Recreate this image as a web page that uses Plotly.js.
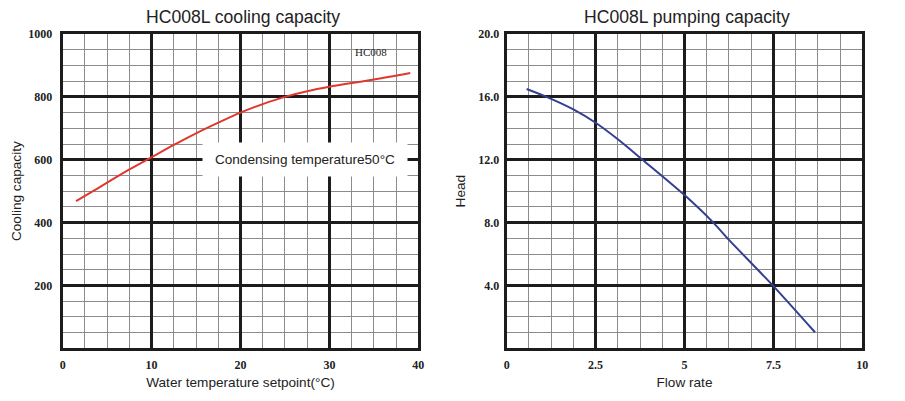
<!DOCTYPE html>
<html>
<head>
<meta charset="utf-8">
<script src="https://cdn.plot.ly/plotly-3.0.1.min.js"></script>
<style>html,body{margin:0;padding:0;background:#fff;}#chart{width:905px;height:401px;}</style>
</head>
<body>
<div id="chart"></div>
<script>
// Cooling capacity chart data
const coolTemp = [1.5, 2.5, 5, 7.5, 10, 12.5, 15, 17.5, 20, 22.5, 25, 27.5, 30, 35, 39.1];
const coolCap  = [468, 485, 527, 569, 608, 647, 684, 718, 750, 777, 800, 818, 832, 855, 876];
const coolXTicks = [0, 10, 20, 30, 40];
const coolYTicks = [0, 200, 400, 600, 800, 1000];
const coolYTickText = ['', '200', '400', '600', '800', '1000'];

// Pumping capacity chart data
const flowRate = [0.56, 1.12, 1.875, 2.5, 3.125, 3.82, 5, 5.81, 6.25, 7.5, 8.67];
const headVal  = [16.5, 16.0, 15.2, 14.35, 13.3, 12.0, 9.75, 8.0, 6.9, 3.96, 1.02];
const pumpXTicks = [0, 2.5, 5, 7.5, 10];
const pumpXTickText = ['0', '2.5', '5', '7.5', '10'];
const pumpYTicks = [0, 4, 8, 12, 16, 20];
const pumpYTickText = ['', '4.0', '8.0', '12.0', '16.0', '20.0'];

const titles = ['HC008L cooling capacity', 'HC008L pumping capacity'];
const xTitles = ['Water temperature setpoint(°C)', 'Flow rate'];
const yTitles = ['Cooling capacity', 'Head'];
const curveLabel = 'HC008';
const conditionLabel = 'Condensing temperature50°C';

const majorColor = '#1c1c1c';
const minorColor = '#8c8c8c';
const tickFont = {family: 'Liberation Serif, Times New Roman, serif', size: 12, color: '#222', weight: 'bold'};
const sansTitle = {family: 'Liberation Sans, Arial, sans-serif', size: 13.6, color: '#222'};

function axisBase(extra) {
  return Object.assign({
    showline: true, mirror: true, linewidth: 3, linecolor: majorColor,
    showgrid: true, gridcolor: majorColor, gridwidth: 3,
    zeroline: false, ticks: '', tickfont: tickFont,
    tickmode: 'array', fixedrange: true
  }, extra);
}

const traces = [
  {x: coolTemp, y: coolCap, type: 'scatter', mode: 'lines', line: {color: '#e0382f', width: 2, shape: 'spline', smoothing: 0.8}, xaxis: 'x', yaxis: 'y', hoverinfo: 'skip'},
  {x: flowRate, y: headVal, type: 'scatter', mode: 'lines', line: {color: '#343f92', width: 2, shape: 'spline', smoothing: 0.8}, xaxis: 'x2', yaxis: 'y2', hoverinfo: 'skip'}
];

const yDom = [1 - 348.3/401, 1 - 34/401];
const layout = {
  width: 905, height: 401,
  margin: {l: 0, r: 0, t: 0, b: 0},
  paper_bgcolor: '#fff', plot_bgcolor: '#fff',
  showlegend: false,
  xaxis: axisBase({domain: [62.7/905, 418.3/905], range: [0, 40], tickvals: coolXTicks,
    ticklabelstandoff: 3,
    minor: {tickmode: 'linear', tick0: 0, dtick: 2.5, showgrid: true, gridcolor: minorColor, gridwidth: 1, ticks: ''},
    title: {text: xTitles[0], font: sansTitle, standoff: 7}}),
  yaxis: axisBase({domain: yDom, range: [0, 1000], tickvals: coolYTicks, ticktext: coolYTickText,
    ticklabelstandoff: 5,
    minor: {tickmode: 'linear', tick0: 0, dtick: 50, showgrid: true, gridcolor: minorColor, gridwidth: 1, ticks: ''},
    title: {text: yTitles[0], font: sansTitle, standoff: 4}}),
  xaxis2: axisBase({domain: [506.7/905, 862.3/905], range: [0, 10], tickvals: pumpXTicks, ticktext: pumpXTickText,
    anchor: 'y2', ticklabelstandoff: 3,
    minor: {tickmode: 'linear', tick0: 0, dtick: 0.625, showgrid: true, gridcolor: minorColor, gridwidth: 1, ticks: ''},
    title: {text: xTitles[1], font: sansTitle, standoff: 7}}),
  yaxis2: axisBase({domain: yDom, range: [0, 20], tickvals: pumpYTicks, ticktext: pumpYTickText,
    anchor: 'x2', ticklabelstandoff: 2,
    minor: {tickmode: 'linear', tick0: 0, dtick: 1, showgrid: true, gridcolor: minorColor, gridwidth: 1, ticks: ''},
    title: {text: yTitles[1], font: sansTitle, standoff: 10}}),
  annotations: [
    {text: titles[0], xref: 'paper', yref: 'paper', x: 243/905, y: 1 - 16.5/401, xanchor: 'center', yanchor: 'middle', showarrow: false,
     font: {family: 'Liberation Sans, Arial, sans-serif', size: 17.6, color: '#222'}},
    {text: titles[1], xref: 'paper', yref: 'paper', x: 687/905, y: 1 - 16.5/401, xanchor: 'center', yanchor: 'middle', showarrow: false,
     font: {family: 'Liberation Sans, Arial, sans-serif', size: 17.6, color: '#222'}},
    {text: curveLabel, xref: 'x', yref: 'y', x: 34.7, y: 944, showarrow: false,
     font: {family: 'Liberation Serif, Times New Roman, serif', size: 11, color: '#222'}},
    {text: conditionLabel, xref: 'x', yref: 'y', x: 27.3, y: 600, showarrow: false,
     bgcolor: '#ffffff', borderpad: 4, width: 196, height: 25,
     font: {family: 'Liberation Sans, Arial, sans-serif', size: 13.6, color: '#222'}}
  ]
};

Plotly.newPlot('chart', traces, layout, {displayModeBar: false, staticPlot: true});
</script>
</body>
</html>
